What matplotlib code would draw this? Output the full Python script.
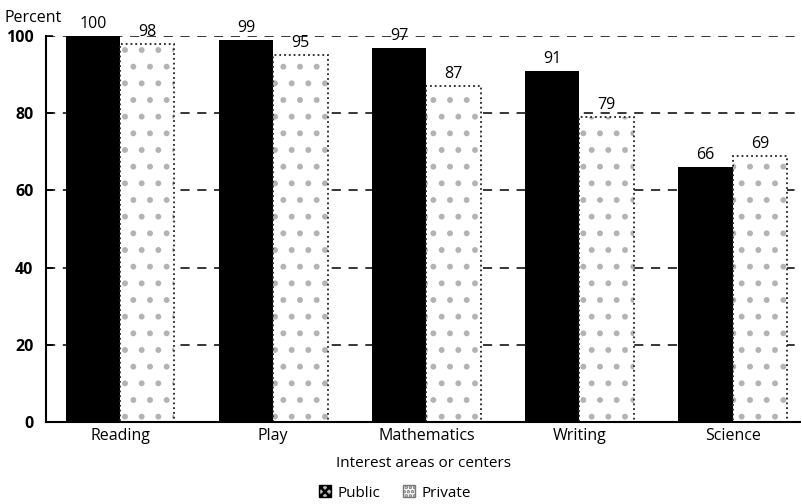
import matplotlib
matplotlib.use("Agg")
import matplotlib.pyplot as plt
from matplotlib.patches import Patch

categories = ["Reading", "Play", "Mathematics", "Writing", "Science"]
public = [100, 99, 97, 91, 66]
private = [98, 95, 87, 79, 69]
yticks = [0, 20, 40, 60, 80, 100]

plt.rcParams['font.family'] = ['Open Sans', 'DejaVu Sans']
plt.rcParams['hatch.linewidth'] = 1.8

fig = plt.figure(figsize=(8.02, 5.04), dpi=100)
W, H = 802, 504
x0, x1, ytop, ybot = 46, 800, 36, 422
ax = fig.add_axes([x0 / W, (H - ybot) / H, (x1 - x0) / W, (ybot - ytop) / H])

fs = 11.5
w = 0.355
xs = list(range(len(categories)))
for y in yticks[1:]:
    ax.axhline(y, color='black', lw=1.1, ls=(0, (6, 5)), zorder=0)

bp = ax.bar([x - w / 2 for x in xs], public, width=w, color='black', zorder=2)
# stipple fill (light grey) for private bars
bq = ax.bar([x + w / 2 for x in xs], private, width=w, facecolor='white',
            edgecolor='#b3b3b3', hatch='.', linewidth=0, zorder=2)
# dotted outline on top
for rect in bq:
    ax.add_patch(plt.Rectangle(rect.get_xy(), rect.get_width(), rect.get_height(),
                               fill=False, edgecolor='#222222', linewidth=1.3,
                               linestyle=':', zorder=3))

for x, v in zip(xs, public):
    ax.text(x - w / 2, v + 1.0, str(v), ha='center', va='bottom', fontsize=fs, clip_on=False)
for x, v in zip(xs, private):
    ax.text(x + w / 2, v + 1.0, str(v), ha='center', va='bottom', fontsize=fs, clip_on=False)

ax.set_xlim(-0.484, 4.44)
ax.set_ylim(0, 100)
ax.set_yticks(yticks)
ax.set_yticklabels([str(t) for t in yticks], fontsize=fs, fontweight='bold')
ax.tick_params(axis='y', direction='in', length=5, width=1.2, pad=9)
ax.set_xticks(xs)
ax.set_xticklabels(categories, fontsize=fs)
ax.tick_params(axis='x', length=0, pad=4)
for s in ['top', 'right']:
    ax.spines[s].set_visible(False)
ax.spines['left'].set_linewidth(1.5)
ax.spines['bottom'].set_linewidth(1.5)
ax.spines['left'].set_zorder(4)
ax.spines['bottom'].set_zorder(4)

ax.set_xlabel("Interest areas or centers", fontsize=fs - 0.5, labelpad=9)
fig.text(5 / W, 1 - 18 / H, "Percent", fontsize=fs, ha='left', va='center')

handles = [Patch(facecolor='#bbbbbb', edgecolor='black', hatch='xxxx', label='Public'),
           Patch(facecolor='white', edgecolor='#777777', hatch='....', label='Private')]
fig.legend(handles=handles, loc='center', bbox_to_anchor=(395 / W, 1 - 493 / H), ncol=2,
           frameon=False, fontsize=fs - 0.5, handlelength=0.8, handleheight=0.8,
           handletextpad=0.4, columnspacing=1.5, borderaxespad=0)

fig.savefig("out.png", dpi=100)
